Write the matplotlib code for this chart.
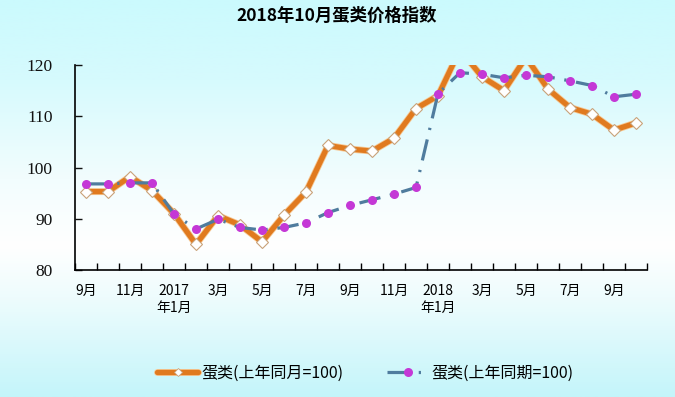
import matplotlib
matplotlib.use("Agg")
import matplotlib.pyplot as plt
import matplotlib.patheffects as pe
import numpy as np
from matplotlib.colors import LinearSegmentedColormap
from matplotlib.legend_handler import HandlerTuple

plt.rcParams['font.family'] = ['Noto Sans CJK SC', 'DejaVu Sans']
plt.rcParams['lines.scale_dashes'] = False

title = "2018年10月蛋类价格指数"
months = ["2016-09", "2016-10", "2016-11", "2016-12", "2017-01", "2017-02", "2017-03",
          "2017-04", "2017-05", "2017-06", "2017-07", "2017-08", "2017-09", "2017-10",
          "2017-11", "2017-12", "2018-01", "2018-02", "2018-03", "2018-04", "2018-05",
          "2018-06", "2018-07", "2018-08", "2018-09", "2018-10"]
same_month = [95.3, 95.3, 98.2, 95.5, 91.0, 85.0, 90.6, 88.8, 85.5, 90.7, 95.2, 104.3, 103.6,
              103.2, 105.7, 111.5, 114.0, 123.0, 117.7, 115.0, 121.5, 115.3, 111.7, 110.4,
              107.3, 108.7]
same_period = [96.8, 96.8, 97.0, 97.0, 90.9, 88.0, 89.9, 88.3, 87.8, 88.3, 89.2, 91.2, 92.6,
               93.7, 94.8, 96.1, 114.4, 118.5, 118.2, 117.5, 118.0, 117.7, 116.9, 116.0,
               113.8, 114.3]
tick_labels = ["9月", "11月", "2017\n年1月", "3月", "5月", "7月", "9月", "11月",
               "2018\n年1月", "3月", "5月", "7月", "9月"]
series_names = ["蛋类(上年同月=100)", "蛋类(上年同期=100)"]

fig = plt.figure(figsize=(6.75, 3.97), dpi=100)

# background gradient
bg = fig.add_axes([0, 0, 1, 1], zorder=-10)
cmap = LinearSegmentedColormap.from_list(
    "bg", [(0.0, "#cbfafd"), (0.2, "#d6fafd"), (0.45, "#f2fdfe"), (0.62, "#ffffff"),
           (0.75, "#eefcfd"), (1.0, "#c4f5fa")])
grad = np.linspace(0, 1, 256).reshape(-1, 1)
bg.imshow(grad, aspect='auto', cmap=cmap, extent=[0, 1, 0, 1], origin='upper')
bg.axis('off')

ax = fig.add_axes([75/675, 1 - 270/397, 572/675, 205/397])
ax.patch.set_alpha(0)

x = np.arange(len(months))
l1, = ax.plot(x, same_month, color='#e07a1f', lw=3.8, solid_joinstyle='round',
              solid_capstyle='round', zorder=3,
              path_effects=[pe.Stroke(linewidth=5.0, foreground='#f6c894'), pe.Normal()])
m1, = ax.plot(x, same_month, ls='none', marker='D', markersize=6,
              markerfacecolor='white', markeredgecolor='#c9a27a',
              markeredgewidth=0.8, zorder=3.5)
l2, = ax.plot(x, same_period, color='#4f7c9e', lw=2.3,
              linestyle=(0, (15.5, 7.0, 1.6, 7.0)), zorder=4)
m2, = ax.plot(x, same_period, ls='none', marker='o', markersize=6.5,
              markerfacecolor='#c438d6', markeredgewidth=0, zorder=4.5)

ax.set_xlim(-0.5, len(months) - 0.5)
ax.set_ylim(80, 120)
ax.set_yticks([80, 90, 100, 110, 120])
ax.tick_params(axis='y', direction='in', length=5, width=1, pad=16, labelsize=12.5,
               colors='#111111')
for t in ax.get_yticklabels():
    t.set_fontfamily(['Liberation Serif', 'DejaVu Serif'])

ax.set_xticks(np.arange(-0.5, len(months) + 0.5, 1))
ax.set_xticklabels([])
ax.tick_params(axis='x', direction='in', length=5, width=1)
ax.set_xticks(x[::2], minor=True)
ax.set_xticklabels(tick_labels, minor=True, fontsize=10, linespacing=1.3)
ax.tick_params(axis='x', which='minor', length=0, pad=10)

for s in ['top', 'right']:
    ax.spines[s].set_visible(False)
for s in ['left', 'bottom']:
    ax.spines[s].set_linewidth(1.2)
    ax.spines[s].set_color('black')

fig.text(337/675, 1 - 16/397, title, ha='center', va='center', fontsize=12.5,
         fontweight='bold')

lm1 = plt.Line2D([], [], ls='none', marker='D', markersize=4.5, markerfacecolor='white',
                 markeredgecolor='#c9a27a', markeredgewidth=0.6)
lm2 = plt.Line2D([], [], ls='none', marker='o', markersize=6.5,
                 markerfacecolor='#c438d6', markeredgewidth=0)
fig.legend([(l1, lm1), (l2, lm2)], series_names, loc='center',
           bbox_to_anchor=(0.541, 1 - 373/397),
           handler_map={tuple: HandlerTuple(ndivide=1)},
           ncol=2, frameon=False, fontsize=11.5, handlelength=2.6, columnspacing=2.7,
           handletextpad=0.2)

fig.savefig("out.png", dpi=100)
